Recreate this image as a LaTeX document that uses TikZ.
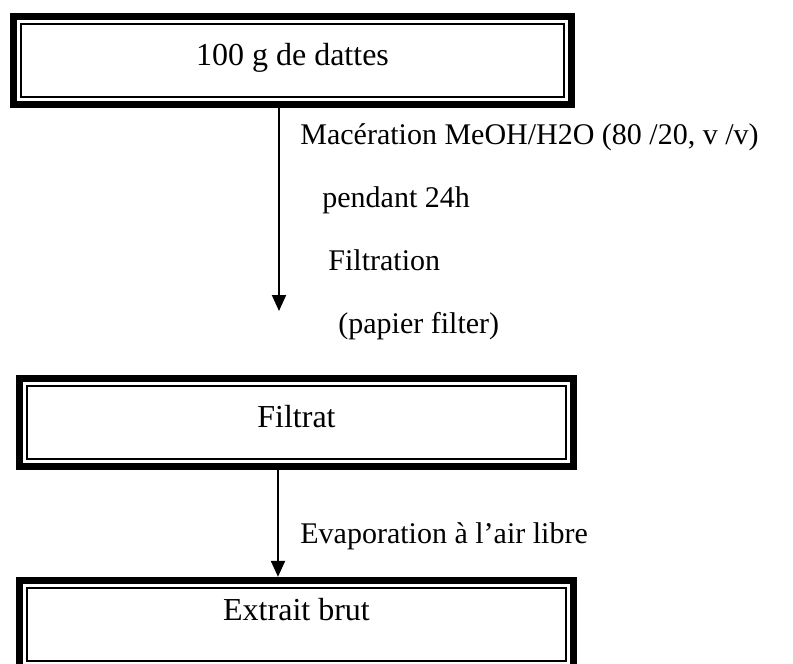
\documentclass[tikz,border=0pt]{standalone}
\usepackage{fontspec}
\setmainfont{Liberation Serif}
\usetikzlibrary{arrows.meta,positioning}
\tikzset{
  framebox/.style={draw, line width=3.65pt, minimum height=44pt, align=center, font=\fontsize{16pt}{19pt}\selectfont, text height=10pt, text depth=5pt},
  innerframe/.style={line width=1pt},
  steplabel/.style={anchor=base west, inner sep=0pt, font=\fontsize{15pt}{18pt}\selectfont},
  flow/.style={-{Triangle[length=8pt, width=7pt]}, line width=1pt}
}

\begin{document}
\begin{tikzpicture}[x=0.5pt, y=-0.5pt]
\useasboundingbox (0,0) rectangle (793,664);
\node[framebox, minimum width=279pt] (dattes) at (292.5,60.5) {100 g de dattes};
\node[framebox, minimum width=277pt] (filtrat) at (296.5,422.5) {Filtrat};
\node[framebox, minimum width=277pt, text height=5pt, text depth=9.5pt] (extrait) at (296.5,624.5) {Extrait brut};
% inner lines of the frames
\foreach \b in {dattes,filtrat,extrait}
  \draw[innerframe] ([shift={(11.5,11.5)}]\b.north west) rectangle ([shift={(-11.5,-11.5)}]\b.south east);
\node[steplabel] (maceration) at (300,144) {Macération MeOH/H2O (80 /20, v /v)};
\node[steplabel] (pendant) at (322,207) {pendant 24h};
\node[steplabel] (filtration) at (328,270) {Filtration};
\node[steplabel] (papier) at (338,333) {(papier filter)};
\node[steplabel] (evaporation) at (300,543) {Evaporation à l’air libre};
\coordinate (filtre) at (279,311);
\draw[flow] (dattes.south -| filtre) -- (filtre);
\draw[flow] ([xshift=-9.25pt]filtrat.south) -- ([xshift=-9.25pt]extrait.north);
\end{tikzpicture}
\end{document}
